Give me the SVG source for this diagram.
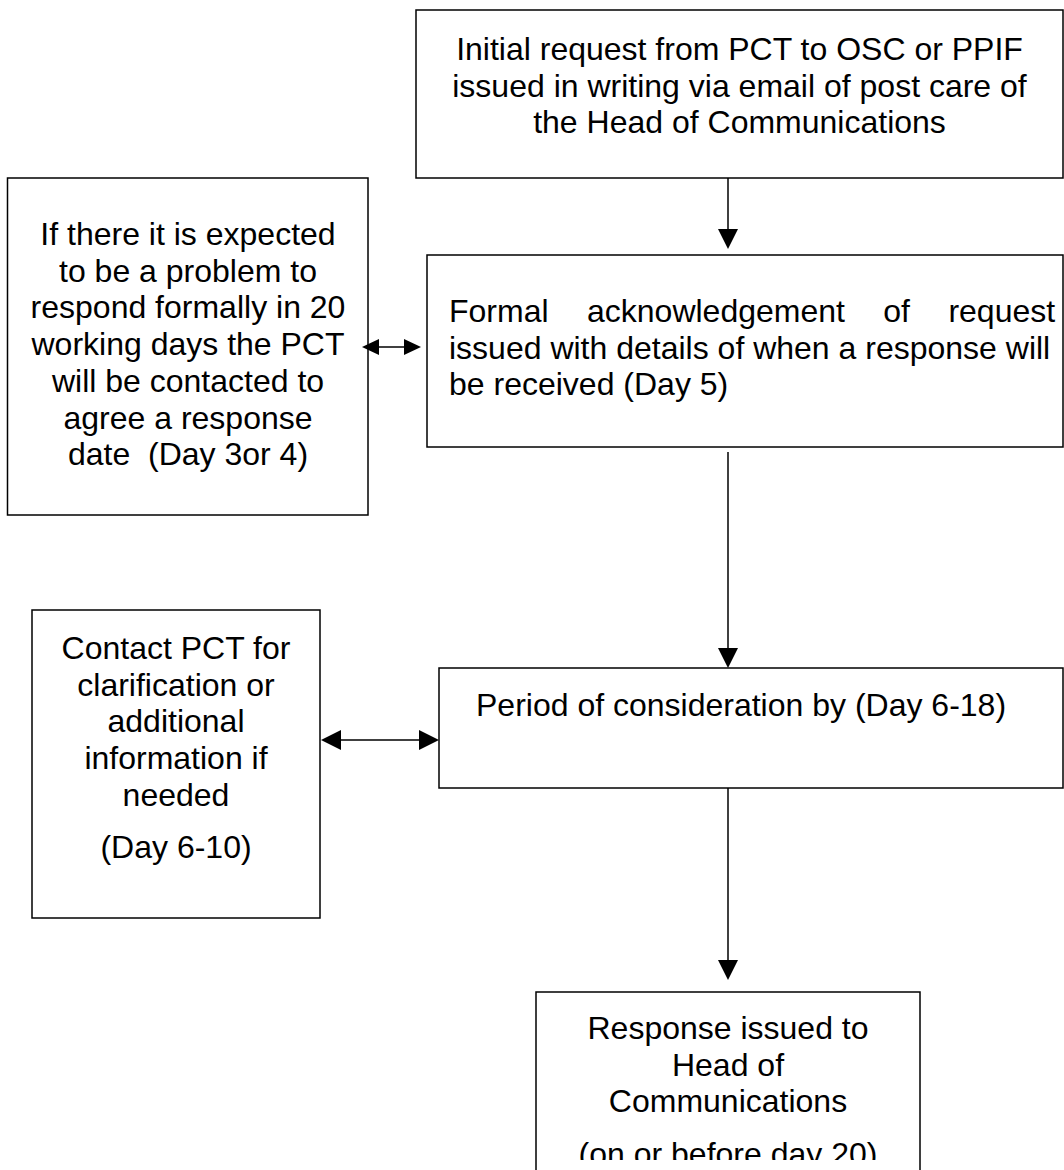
<svg xmlns="http://www.w3.org/2000/svg" width="1064" height="1170" viewBox="0 0 1064 1170">
<style>
.box{fill:#fff;stroke:#000;stroke-width:1.5}
.t{font-family:"Liberation Sans",Arial,sans-serif;font-size:32px;fill:#000}
.c{text-anchor:middle}
.ln{stroke:#000;stroke-width:1.5;fill:none}
.ah{fill:#000}
</style>
<defs>
<clipPath id="clipBottom"><rect x="0" y="0" width="1064" height="1160"/></clipPath>
</defs>
<rect width="1064" height="1170" fill="#fff"/>
<g id="n-initial">
<rect class="box" x="416" y="10" width="647" height="168"/>
<text class="t c" x="739.5" y="60">Initial request from PCT to OSC or PPIF</text>
<text class="t c" x="739.5" y="96.7">issued in writing via email of post care of</text>
<text class="t c" x="739.5" y="133.4">the Head of Communications</text>
</g>
<g id="n-problem">
<rect class="box" x="7.5" y="178" width="360.5" height="337"/>
<text class="t c" x="188" y="245">If there it is expected</text>
<text class="t c" x="188" y="281.7">to be a problem to</text>
<text class="t c" x="188" y="318.4">respond formally in 20</text>
<text class="t c" x="188" y="355.1">working days the PCT</text>
<text class="t c" x="188" y="391.8">will be contacted to</text>
<text class="t c" x="188" y="428.5">agree a response</text>
<text class="t c" x="188" y="465.2" xml:space="preserve">date  (Day 3or 4)</text>
</g>
<g id="n-ack">
<rect class="box" x="427" y="255" width="636" height="192"/>
<text class="t" y="322"><tspan x="449">Formal</tspan><tspan x="587">acknowledgement</tspan><tspan x="883.3">of</tspan><tspan x="948.4">request</tspan></text>
<text class="t" x="449" y="358.7">issued with details of when a response will</text>
<text class="t" x="449" y="395.4">be received (Day 5)</text>
</g>
<g id="n-contact">
<rect class="box" x="32" y="610" width="288" height="308"/>
<text class="t c" x="176" y="659">Contact PCT for</text>
<text class="t c" x="176" y="695.7">clarification or</text>
<text class="t c" x="176" y="732.4">additional</text>
<text class="t c" x="176" y="769.1">information if</text>
<text class="t c" x="176" y="805.8">needed</text>
<text class="t c" x="176" y="858">(Day 6-10)</text>
</g>
<g id="n-period">
<rect class="box" x="439" y="668" width="624" height="120"/>
<text class="t" x="476" y="716">Period of consideration by (Day 6-18)</text>
</g>
<g id="n-response">
<rect class="box" x="536" y="992" width="384" height="190"/>
<g clip-path="url(#clipBottom)">
<text class="t c" x="728" y="1039.3">Response issued to</text>
<text class="t c" x="728" y="1075.5">Head of</text>
<text class="t c" x="728" y="1111.7">Communications</text>
<text class="t c" x="728" y="1165">(on or before day 20)</text>
</g>
</g>
<g id="connectors">
<line class="ln" x1="728" y1="178" x2="728" y2="232"/>
<polygon class="ah" points="718,229 738,229 728,249"/>
<line class="ln" x1="728" y1="452" x2="728" y2="650"/>
<polygon class="ah" points="718,648 738,648 728,668"/>
<line class="ln" x1="728" y1="788" x2="728" y2="962"/>
<polygon class="ah" points="718,960 738,960 728,980"/>
<line class="ln" x1="376" y1="347" x2="406" y2="347"/>
<polygon class="ah" points="362,347 379,339 379,355"/>
<polygon class="ah" points="421,347 404,339 404,355"/>
<line class="ln" x1="338" y1="740" x2="422" y2="740"/>
<polygon class="ah" points="321,740 341,730 341,750"/>
<polygon class="ah" points="439,740 419,730 419,750"/>
</g>
</svg>
